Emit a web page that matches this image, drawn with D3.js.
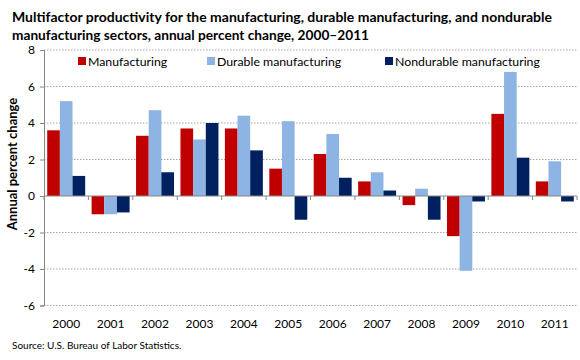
<!DOCTYPE html>
<html><head><meta charset="utf-8">
<script src="https://cdn.jsdelivr.net/npm/d3@7"></script>
<style>body{margin:0;background:#fff}svg{display:block}text{font-family:Lato,"Open Sans",sans-serif}</style>
</head><body><svg id="c" width="580" height="360"></svg>
<script>
const years = ["2000","2001","2002","2003","2004","2005","2006","2007","2008","2009","2010","2011"];
const seriesNames = ["Manufacturing","Durable manufacturing","Nondurable manufacturing"];
const manufacturing = [3.6,-1.0,3.3,3.7,3.7,1.5,2.3,0.8,-0.5,-2.2,4.5,0.8];
const durable = [5.2,-1.0,4.7,3.1,4.4,4.1,3.4,1.3,0.4,-4.1,6.8,1.9];
const nondurable = [1.1,-0.9,1.3,4.0,2.5,-1.3,1.0,0.3,-1.3,-0.3,2.1,-0.3];
const yTicks = [-6,-4,-2,0,2,4,6,8];
const colors = ["#C00000","#8EB4E3","#002060"];
const seriesValues = [manufacturing, durable, nondurable];

const svg = d3.select("#c");
const L = 44, R = 577, T = 50, B = 305.5;
const x = d3.scaleBand().domain(years).range([L, R]).paddingInner(0.145).paddingOuter(0.0725);
const xb = d3.scaleBand().domain(years).range([L, R]);
const x1 = d3.scaleBand().domain(d3.range(3)).range([0, x.bandwidth()]);
const y = d3.scaleLinear().domain([-6, 8]).range([B, T]);

// gridlines
svg.append("g").selectAll("line").data(yTicks.filter(d => d !== 0)).join("line")
  .attr("x1", L).attr("x2", R).attr("y1", d => y(d)).attr("y2", d => y(d))
  .attr("stroke", "#a6a6a6").attr("stroke-dasharray", "1.5,1.5").attr("stroke-width", 1);

// bars
years.forEach((yr, i) => {
  seriesValues.forEach((vals, s) => {
    const v = vals[i];
    svg.append("rect")
      .attr("x", x(yr) + x1(s)).attr("width", x1.bandwidth())
      .attr("y", y(Math.max(0, v))).attr("height", Math.abs(y(v) - y(0)))
      .attr("fill", colors[s]);
  });
});

// y axis
const yAxis = d3.axisLeft(y).tickValues(yTicks).tickSize(4).tickPadding(5).tickFormat(d => String(d));
const ga = svg.append("g").attr("transform", `translate(${L},0)`).call(yAxis);
ga.select(".domain").attr("stroke", "#868686");
ga.selectAll(".tick line").attr("stroke", "#868686");
ga.selectAll(".tick text").attr("font-size", 12).attr("fill", "#000").style("font-family", "Lato, sans-serif");

// zero line and x ticks
svg.append("line").attr("x1", L).attr("x2", R).attr("y1", y(0)).attr("y2", y(0)).attr("stroke", "#868686");
const bounds = years.map(d => xb(d)).concat([R]);
svg.append("g").selectAll("line").data(bounds).join("line")
  .attr("x1", d => d).attr("x2", d => d).attr("y1", y(0)).attr("y2", y(0) + 4).attr("stroke", "#868686");

// x labels
svg.append("g").selectAll("text").data(years).join("text")
  .attr("x", d => xb(d) + xb.bandwidth() / 2).attr("y", 328)
  .attr("text-anchor", "middle").attr("font-size", 12).attr("fill", "#000").text(d => d);

// title
svg.append("text").attr("x", 12).attr("y", 22).attr("font-size", 13.5).attr("font-weight", "bold")
  .attr("textLength", 540).attr("lengthAdjust", "spacingAndGlyphs")
  .text("Multifactor productivity for the manufacturing, durable manufacturing, and nondurable");
svg.append("text").attr("x", 12).attr("y", 40).attr("font-size", 13.5).attr("font-weight", "bold")
  .attr("textLength", 357).attr("lengthAdjust", "spacingAndGlyphs")
  .text("manufacturing sectors, annual percent change, 2000\u20132011");

// y label
svg.append("text").attr("transform", `translate(17,164) rotate(-90)`)
  .attr("text-anchor", "middle").attr("font-size", 13).attr("font-weight", "bold")
  .text("Annual percent change");

// legend
const legX = [78, 207, 385];
seriesNames.forEach((n, i) => {
  svg.append("rect").attr("x", legX[i]).attr("y", 57).attr("width", 8).attr("height", 8).attr("fill", colors[i]);
  svg.append("text").attr("x", legX[i] + 10).attr("y", 65.5).attr("font-size", 12.3).text(n);
});

// source
svg.append("text").attr("x", 12).attr("y", 349).attr("font-size", 10).text("Source: U.S. Bureau of Labor Statistics.");
</script></body></html>
